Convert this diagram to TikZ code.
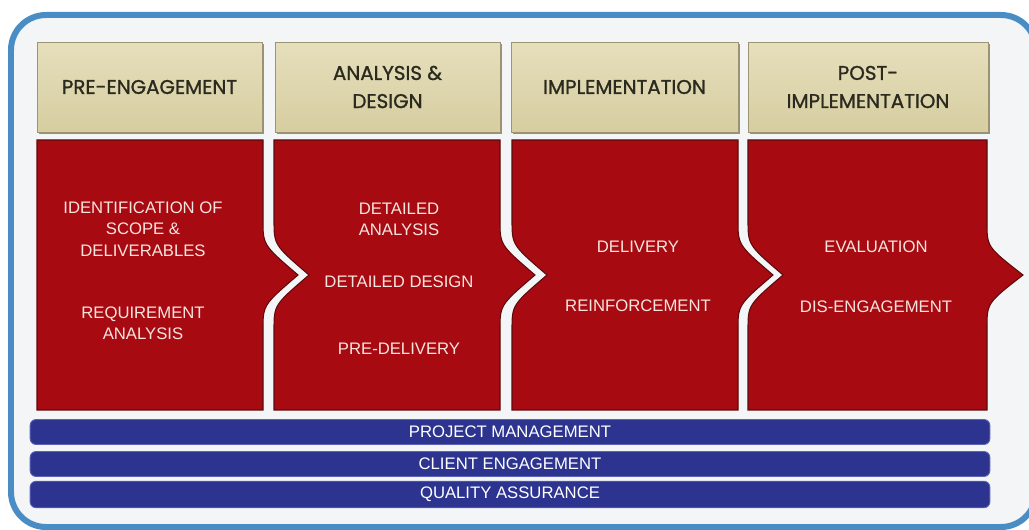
\documentclass[tikz,border=0pt]{standalone}
\usepackage{fontspec}
\setmainfont{Liberation Sans}
\newfontfamily\titolofont[FakeBold=1.2]{Poppins}
\usetikzlibrary{shadows}

\definecolor{cornice}{HTML}{4A8DC4}
\definecolor{sfondo}{HTML}{F3F5F7}
\definecolor{sabbiachiara}{HTML}{E6DFBC}
\definecolor{sabbiascura}{HTML}{D6CDA0}
\definecolor{sabbiabordo}{HTML}{9C9472}
\definecolor{testotitolo}{HTML}{2B2A1F}
\definecolor{rossofase}{HTML}{A80A12}
\definecolor{rossobordo}{HTML}{5E0A0C}
\definecolor{testofase}{HTML}{F6E4DE}
\definecolor{blubarra}{HTML}{2C3490}
\definecolor{blubordo}{HTML}{5C63B4}

\begin{document}
\begin{tikzpicture}[x=0.02cm, y=-0.02cm,
    intestazione/.style={rectangle, draw=sabbiabordo, top color=sabbiachiara, bottom color=sabbiascura,
        drop shadow={shadow xshift=1.4pt, shadow yshift=-1.4pt, fill=black!60, opacity=0.7},
        minimum height=1.8cm, align=center, text=testotitolo,
        font=\titolofont\fontsize{11.3}{16}\selectfont},
    fase/.style={fill=rossofase, draw=rossobordo, line width=0.6pt},
    voce/.style={text=testofase, align=center, font=\fontsize{9.5}{12.2}\selectfont},
    barra/.style={rectangle, rounded corners=0.12cm, fill=blubarra, draw=blubordo, line width=0.5pt,
        minimum width=19.2cm, minimum height=0.5cm, text=white, font=\fontsize{9.5}{11}\selectfont}]

    \useasboundingbox (0,0) rectangle (1029,530);

    % Cornice
    \draw[draw=cornice, fill=sfondo, line width=0.12cm, rounded corners=0.7cm] (11,15) rectangle (1036,527);

    % Intestazioni
    \foreach \n/\cx/\w/\testo in {1/149.5/225/PRE-ENGAGEMENT, 2/387.5/225/{ANALYSIS \&\\DESIGN},
            3/624.5/227/IMPLEMENTATION, 4/868/240/{POST-\\IMPLEMENTATION}} {
            \node[intestazione, minimum width=\w*0.02cm] (h\n) at (\cx,87) {\testo};
        }

    % Fasi
    \draw[fase] (37,140) -- (263,140) -- (263,220) .. controls (263,245) .. (298,275)
        .. controls (263,305) .. (263,330) -- (263,410) -- (37,410) -- cycle;
    \draw[fase] (274,140) -- (500,140) -- (500,220) .. controls (500,245) .. (535,275)
        .. controls (500,305) .. (500,330) -- (500,410) -- (274,410) -- (274,330)
        .. controls (274,305) .. (309,275) .. controls (274,245) .. (274,220) -- cycle;
    \draw[fase] (512,140) -- (738,140) -- (738,220) .. controls (738,245) .. (773,275)
        .. controls (738,305) .. (738,330) -- (738,410) -- (512,410) -- (512,330)
        .. controls (512,305) .. (547,275) .. controls (512,245) .. (512,220) -- cycle;
    \draw[fase] (748,140) -- (987,140) -- (987,222) .. controls (987,247) .. (1023,275)
        .. controls (987,303) .. (987,328) -- (987,410) -- (748,410) -- (748,330)
        .. controls (748,305) .. (783,275) .. controls (748,245) .. (748,220) -- cycle;

    % Voci
    \node[voce] (v1a) at (143,229) {IDENTIFICATION OF\\SCOPE \&\\DELIVERABLES};
    \node[voce] (v1b) at (143,323) {REQUIREMENT\\ANALYSIS};
    \node[voce] (v2a) at (399,219.5) {DETAILED\\ANALYSIS};
    \node[voce] (v2b) at (399,282) {DETAILED DESIGN};
    \node[voce] (v2c) at (399,349) {PRE-DELIVERY};
    \node[voce] (v3a) at (638,247) {DELIVERY};
    \node[voce] (v3b) at (638,306) {REINFORCEMENT};
    \node[voce] (v4a) at (876,247) {EVALUATION};
    \node[voce] (v4b) at (876,307) {DIS-ENGAGEMENT};

    % Barre
    \node[barra] (b1) at (510,432) {PROJECT MANAGEMENT};
    \node[barra] (b2) at (510,464) {CLIENT ENGAGEMENT};
    \node[barra] (b3) at (510,494.5) {QUALITY ASSURANCE};
\end{tikzpicture}
\end{document}
